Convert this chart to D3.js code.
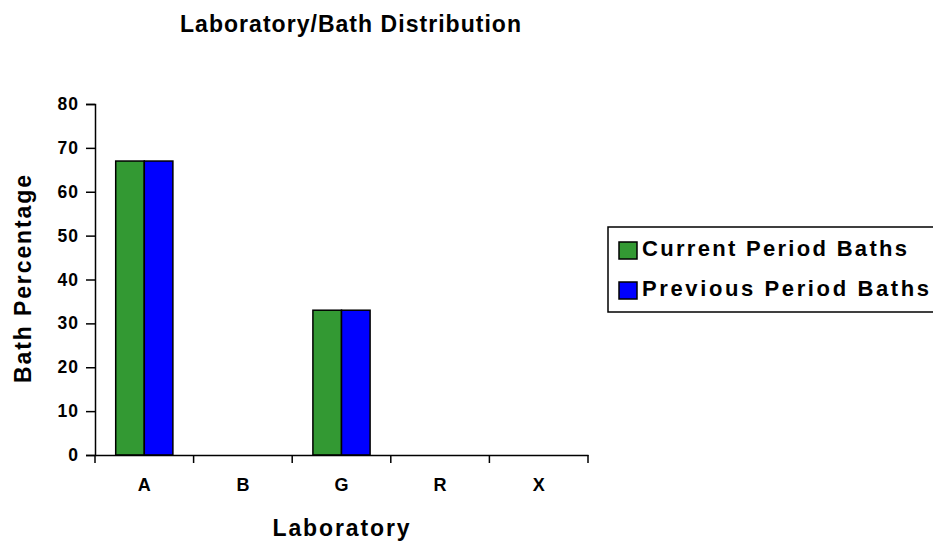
<!DOCTYPE html>
<html>
<head>
<meta charset="utf-8">
<script src="https://cdn.jsdelivr.net/npm/d3@7"></script>
<style>
  body { margin: 0; background: #fff; }
  text { font-family: "Liberation Sans", Arial, sans-serif; font-weight: bold; fill: #000; }
</style>
</head>
<body>
<svg id="chart" width="933" height="541"></svg>
<script>
// chart data
var labs = ["A", "B", "G", "R", "X"];
var seriesNames = ["Current Period Baths", "Previous Period Baths"];
var currentVals = [67, 0, 33, 0, 0];
var previousVals = [67, 0, 33, 0, 0];
var yTicks = [0, 10, 20, 30, 40, 50, 60, 70, 80];
var colors = ["#339933", "#0000ff"];

var svg = d3.select("#chart");
var plotLeft = 95, plotRight = 588, plotTop = 104, plotBottom = 455;

var x = d3.scaleBand().domain(labs).range([plotLeft, plotRight]);
var y = d3.scaleLinear().domain([0, 80]).range([plotBottom, plotTop]);
var bw = x.bandwidth();
var x1 = d3.scaleBand().domain(seriesNames).range([bw * 0.21, bw * 0.79]);

// title
svg.append("text")
  .attr("x", 350.5).attr("y", 32)
  .attr("text-anchor", "middle")
  .attr("font-size", 23)
  .attr("textLength", 341).attr("lengthAdjust", "spacing")
  .text("Laboratory/Bath Distribution");

// bars
var allVals = [currentVals, previousVals];
seriesNames.forEach(function(name, si) {
  svg.append("g").selectAll("rect")
    .data(labs.map(function(l, i) { return { lab: l, v: allVals[si][i] }; }).filter(function(d) { return d.v > 0; }))
    .join("rect")
    .attr("x", function(d) { return x(d.lab) + x1(name); })
    .attr("y", function(d) { return y(d.v); })
    .attr("width", x1.bandwidth())
    .attr("height", function(d) { return y(0) - y(d.v); })
    .attr("fill", colors[si])
    .attr("stroke", "#000")
    .attr("stroke-width", 1.5);
});

// y axis
var yAxis = svg.append("g")
  .attr("transform", "translate(" + plotLeft + ",0)")
  .call(d3.axisLeft(y).tickValues(yTicks).tickSize(9).tickPadding(7));
yAxis.select(".domain").attr("stroke", "#000").attr("stroke-width", 1.5);
yAxis.selectAll(".tick line").attr("stroke", "#000").attr("stroke-width", 1.5);
yAxis.selectAll("text").attr("font-size", 17.5).attr("font-family", null)
  .attr("letter-spacing", 1);

// x axis
var xAxis = svg.append("g")
  .attr("transform", "translate(0," + plotBottom + ")")
  .call(d3.axisBottom(x).tickSize(0).tickPadding(23));
xAxis.select(".domain").attr("stroke", "#000").attr("stroke-width", 1.5);
xAxis.selectAll("text").attr("font-size", 18).attr("font-family", null);
xAxis.selectAll(".bound")
  .data(labs.concat(["end"]))
  .join("line")
  .attr("x1", function(d, i) { return plotLeft + i * bw; })
  .attr("x2", function(d, i) { return plotLeft + i * bw; })
  .attr("y1", 0).attr("y2", 8)
  .attr("stroke", "#000").attr("stroke-width", 1.5);

// axis titles
svg.append("text")
  .attr("x", 341).attr("y", 536)
  .attr("text-anchor", "middle")
  .attr("font-size", 23)
  .attr("textLength", 137).attr("lengthAdjust", "spacing")
  .text("Laboratory");

svg.append("text")
  .attr("transform", "translate(31,279) rotate(-90)")
  .attr("text-anchor", "middle")
  .attr("font-size", 23)
  .attr("textLength", 208).attr("lengthAdjust", "spacing")
  .text("Bath Percentage");

// legend
var lg = svg.append("g");
lg.append("rect")
  .attr("x", 608).attr("y", 227).attr("width", 340).attr("height", 85)
  .attr("fill", "#fff").attr("stroke", "#000").attr("stroke-width", 1.5);
seriesNames.forEach(function(name, i) {
  lg.append("rect")
    .attr("x", 619).attr("y", 242 + i * 40).attr("width", 18).attr("height", 17)
    .attr("fill", colors[i]).attr("stroke", "#000").attr("stroke-width", 1.5);
  lg.append("text")
    .attr("x", 642).attr("y", 256 + i * 40)
    .attr("font-size", 22)
    .attr("textLength", i == 0 ? 265 : 287).attr("lengthAdjust", "spacing")
    .text(name);
});
</script>
</body>
</html>
